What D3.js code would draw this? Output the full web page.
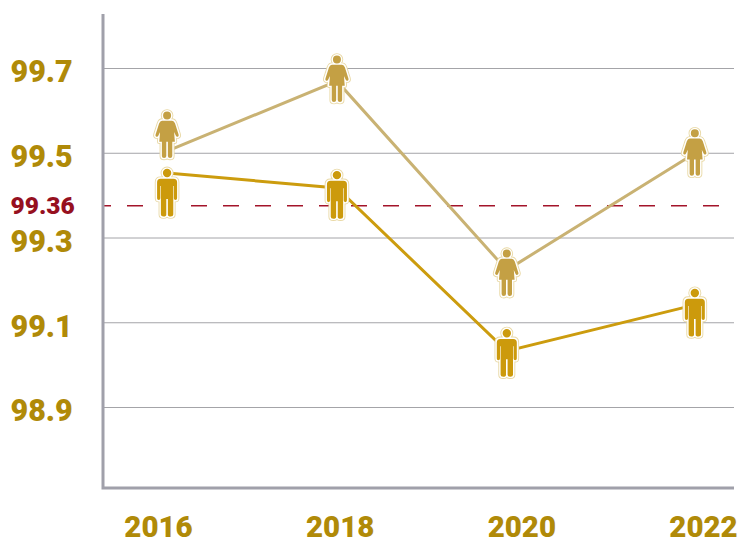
<!DOCTYPE html>
<html>
<head>
<meta charset="utf-8">
<script src="https://cdn.jsdelivr.net/npm/d3@7"></script>
<style>
html, body { margin: 0; padding: 0; background: #fff; }
text { font-family: Roboto, sans-serif; font-weight: 900; }
</style>
</head>
<body>
<div id="chart"></div>
<script>
var years = [2016, 2018, 2020, 2022];
// the marks sit a little off the year labels in the original
var markYears = [2016.1, 2017.97, 2019.84, 2021.91];

var yTicks = [98.9, 99.1, 99.3, 99.5, 99.7];

var womenValues = [99.504, 99.669, 99.223, 99.499];
var menValues = [99.452, 99.417, 99.032, 99.141];
// icons are not centred on the line ends
var womenIcons = [99.542, 99.674, 99.216, 99.5];
var menIcons = [99.405, 99.4, 99.027, 99.122];

var refLabel = "99.36";
var refPosition = 99.375;

var width = 738, height = 539;

var x = d3.scaleLinear().domain([2016, 2022]).range([158, 703]);
var y = d3.scaleLinear().domain([98.9, 99.7]).range([407, 68]);

var svg = d3.select("#chart").append("svg")
    .attr("width", width)
    .attr("height", height)
    .style("display", "block");

// grid
var grid = svg.append("g")
    .attr("transform", "translate(103,0)")
    .call(d3.axisRight(y).tickValues(yTicks).tickSize(631).tickFormat(""));
grid.select(".domain").remove();
grid.selectAll("line").attr("stroke", "#a4a4a8").attr("stroke-width", 1);

// y labels
var yAxis = svg.append("g")
    .attr("transform", "translate(10.5,0)")
    .call(d3.axisRight(y).tickValues(yTicks).tickSize(0).tickPadding(0).tickFormat(d3.format(".1f")));
yAxis.select(".domain").remove();
yAxis.selectAll("text")
    .attr("dy", "0.72em")
    .attr("y", -8)
    .attr("fill", "#b08a08")
    .style("font-size", "30.5px");

// x labels
var xAxis = svg.append("g")
    .attr("transform", "translate(0,512)")
    .call(d3.axisBottom(x).tickValues(years).tickSize(0).tickPadding(0).tickFormat(d3.format("d")));
xAxis.select(".domain").remove();
xAxis.selectAll("text")
    .attr("y", 4.5)
    .attr("dy", "0.71em")
    .attr("fill", "#b08a08")
    .style("font-size", "29.5px");

// reference line
svg.append("line")
    .attr("x1", 103).attr("x2", 734)
    .attr("y1", Math.floor(y(refPosition)) + 0.7).attr("y2", Math.floor(y(refPosition)) + 0.7)
    .attr("stroke", "#a3142a")
    .attr("stroke-width", 1.5)
    .attr("stroke-dasharray", "16,16")
    .attr("stroke-dashoffset", 8);
svg.append("text")
    .attr("x", 10.5)
    .attr("y", y(refPosition) - 0.8)
    .attr("dy", "0.36em")
    .attr("fill", "#96101f")
    .style("font-size", "24.5px")
    .text(refLabel);

// axis frame
svg.append("path")
    .attr("d", "M103,14V488H734")
    .attr("fill", "none")
    .attr("stroke", "#a0a0aa")
    .attr("stroke-width", 3);

var line = d3.line()
    .x(function(d, i) { return x(markYears[i]); })
    .y(function(d) { return y(d); });

svg.append("path")
    .datum(womenValues)
    .attr("d", line)
    .attr("fill", "none")
    .attr("stroke", "#c9b273")
    .attr("stroke-width", 3);

svg.append("path")
    .datum(menValues)
    .attr("d", line)
    .attr("fill", "none")
    .attr("stroke", "#cc9c0e")
    .attr("stroke-width", 3);

// pictograms, 48px tall around 0,0
var manShape = "M-4.2,-20a4.2,4.2 0 1,0 8.4,0a4.2,4.2 0 1,0 -8.4,0Z" +
    "M-6.5,-14.3H6.5Q10,-14.3 10,-10.8V5.2Q10,7 8.4,7Q6.8,7 6.8,5.2V-7H6.2V21.5Q6.2,23.5 3.6,23.5Q0.8,23.5 0.8,21.5V6H-0.8V21.5Q-0.8,23.5 -3.6,23.5Q-6.2,23.5 -6.2,21.5V-7H-6.8V5.2Q-6.8,7 -8.4,7Q-10,7 -10,5.2V-10.8Q-10,-14.3 -6.5,-14.3Z";
var womanShape = "M-4,-19.5a4,4 0 1,0 8,0a4,4 0 1,0 -8,0Z" +
    "M-5,-14.3H5Q7,-14.3 8,-11.5L11.5,-0.5Q12,1.2 10.7,1.7Q9.4,2.2 8.8,0.8L7,-3L7.8,6.7H5.2V21Q5.2,23 3,23Q0.8,23 0.8,21V6.7H-0.8V21Q-0.8,23 -3,23Q-5.2,23 -5.2,21V6.7H-7.8L-7,-3L-8.8,0.8Q-9.4,2.2 -10.7,1.7Q-12,1.2 -11.5,-0.5L-8,-11.5Q-7,-14.3 -5,-14.3Z";

function drawIcons(values, shape, fill, name) {
    var g = svg.selectAll("g." + name)
        .data(values)
        .enter().append("g")
        .attr("class", name)
        .attr("transform", function(d, i) {
            return "translate(" + x(markYears[i]) + "," + y(d) + ")";
        });
    g.append("path").attr("d", shape)
        .attr("fill", "#e9d9a6").attr("stroke", "#e9d9a6")
        .attr("stroke-width", 4.6).attr("stroke-linejoin", "round");
    g.append("path").attr("d", shape)
        .attr("fill", "#fff").attr("stroke", "#fff")
        .attr("stroke-width", 2.8).attr("stroke-linejoin", "round");
    g.append("path").attr("d", shape).attr("fill", fill);
}

drawIcons(womenIcons, womanShape, "#c4a044", "woman");
drawIcons(menIcons, manShape, "#cc9a0c", "man");
</script>
</body>
</html>
